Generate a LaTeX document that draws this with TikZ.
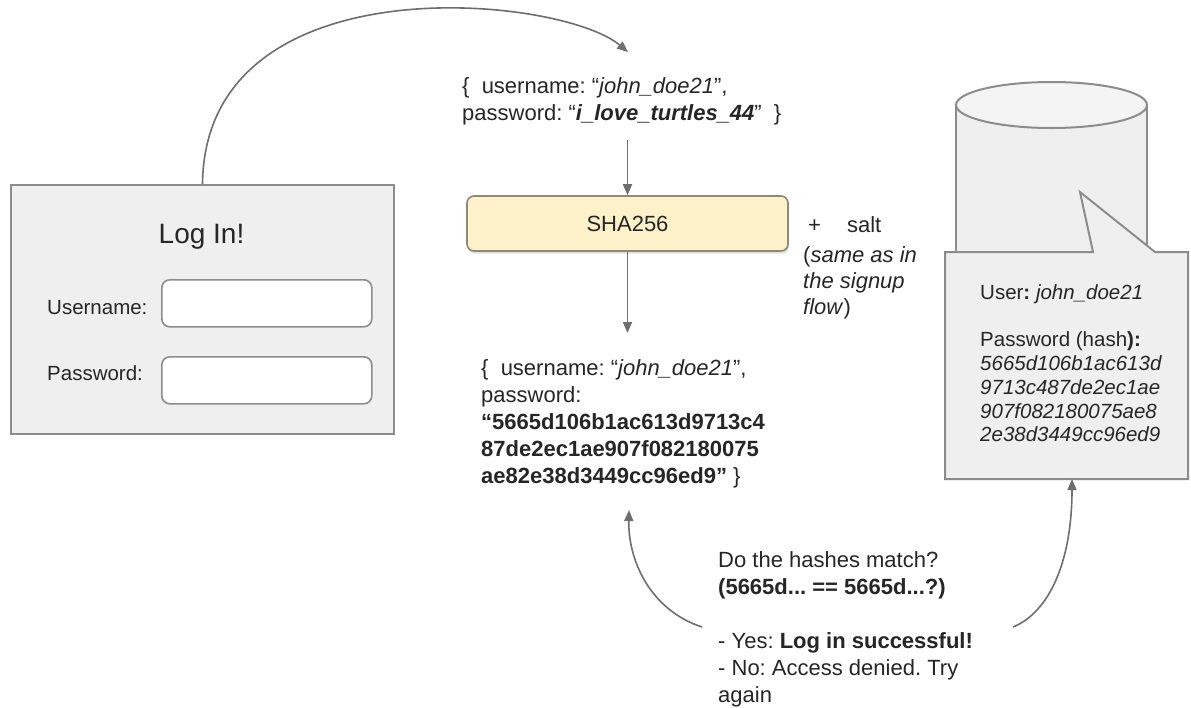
\documentclass[tikz,border=0pt]{standalone}
\usepackage{fontspec}
\setmainfont{Liberation Sans}
\usetikzlibrary{arrows.meta,shadows}
\definecolor{ink}{HTML}{262626}
\definecolor{edge}{HTML}{8C8C8C}
\definecolor{panel}{HTML}{EFEFEF}
\definecolor{lidfill}{HTML}{F4F4F4}
\definecolor{wire}{HTML}{6E6E6E}
\definecolor{hashfill}{HTML}{FDF1CA}
\definecolor{hashedge}{HTML}{8E8A78}
\frenchspacing
\begin{document}
\begin{tikzpicture}[x=1pt,y=-1pt,
  panelbox/.style={draw=edge, line width=2pt, fill=panel},
  field/.style={draw=edge, line width=1.6pt, fill=white, rounded corners=8pt, inner sep=0pt},
  arr/.style={draw=wire, line width=1.6pt, -{Triangle[length=11pt,width=9pt]}},
  body/.style={font=\fontsize{22}{27}\selectfont, text=ink, inner sep=0pt},
  block/.style={body, align=left, anchor=north west},
  small/.style={font=\fontsize{20.5}{23.8}\selectfont, text=ink, inner sep=0pt},
]
\fill[white] (0,0) rectangle (1191,707);
\useasboundingbox (0,0) rectangle (1191,707);

% login form
\node[panelbox, minimum width=383pt, minimum height=249pt, anchor=north west, inner sep=0pt] (login) at (10,184) {};
\node[font=\fontsize{28}{34}\selectfont, text=ink, inner sep=0pt, anchor=base] (title) at (201.5,243) {Log In!};
\node[small, anchor=base west] (ulabel) at (47,314) {Username:};
\node[small, anchor=base west] (plabel) at (47,380) {Password:};
\node[field, minimum width=210pt, minimum height=47pt, anchor=north west] (ufield) at (161,279) {};
\node[field, minimum width=210pt, minimum height=47pt, anchor=north west] (pfield) at (161,356) {};

% credentials sent by the client
\node[block] (req) at (462,74.1) {\strut\{\ \ username: “\textit{john\_doe21}”,\\
  password: “\textbf{\textit{i\_love\_turtles\_44}}”\ \ \}};

% hashing step
\node[body, draw=hashedge, fill=hashfill, rounded corners=7pt, line width=1.6pt,
  minimum width=321pt, minimum height=55pt,
  drop shadow={shadow xshift=1pt, shadow yshift=-2.5pt, opacity=0.25}] (sha) at (627.5,223.5) {SHA256};
\node[body, anchor=base west] (salt) at (808,232) {+\hspace{26pt}salt};
\node[block, font=\fontsize{22}{26}\selectfont] (saltnote) at (803,243.8)
  {\strut(\textit{same as in}\\ \textit{the signup}\\ \textit{flow})};

% hashed credentials
\node[block] (res) at (481,356.1) {\strut\{\ \ username: “\textit{john\_doe21}”,\\
  password:\\
  \textbf{“5665d106b1ac613d9713c4}\\
  \textbf{87de2ec1ae907f082180075}\\
  \textbf{ae82e38d3449cc96ed9”}\ \}};

% database with stored record
\fill[panel] (956,105) rectangle (1147,262);
\draw[edge, line width=2pt] (956,105) -- (956,262) (1147,105) -- (1147,262);
\draw[edge, line width=2pt, fill=lidfill] (1051.5,105) ellipse [x radius=95.5, y radius=23];
\draw[panelbox, line join=miter] (945,252) -- (1093,252) -- (1080,192) -- (1155,252)
  -- (1188,252) -- (1188,479) -- (945,479) -- cycle;
\node[block, small] (cred) at (980,282.3) {\strut User\textbf{:} \textit{john\_doe21}\\[23.8pt]
  Password (hash\textbf{):}\\
  \textit{5665d106b1ac613d}\\
  \textit{9713c487de2ec1ae}\\
  \textit{907f082180075ae8}\\
  \textit{2e38d3449cc96ed9}};

% comparison
\node[block] (verdict) at (718,548.1) {\strut Do the hashes match?\\
  \textbf{(5665d... == 5665d...?)}\\[27pt]
  - Yes: \textbf{Log in successful!}\\
  - No: Access denied. Try\\
  again};

% connectors
\coordinate (toptip) at (628,52);
\coordinate (reqout) at (627.5,140);
\coordinate (resin) at (627.5,333);
\coordinate (yesL) at (702,627);
\coordinate (resbot) at (629,510);
\coordinate (yesR) at (1013,627);
\coordinate (dbnote) at (1072,479);
\draw[arr] (login.north) .. controls (205,-40) and (560,-5) .. (toptip);
\draw[arr] (reqout) -- (sha.north);
\draw[arr] (sha.south) -- (resin);
\draw[arr] (yesL) .. controls (650,610) and (628,560) .. (resbot);
\draw[arr] (yesR) .. controls (1050,612) and (1072,560) .. (dbnote);
\end{tikzpicture}
\end{document}
